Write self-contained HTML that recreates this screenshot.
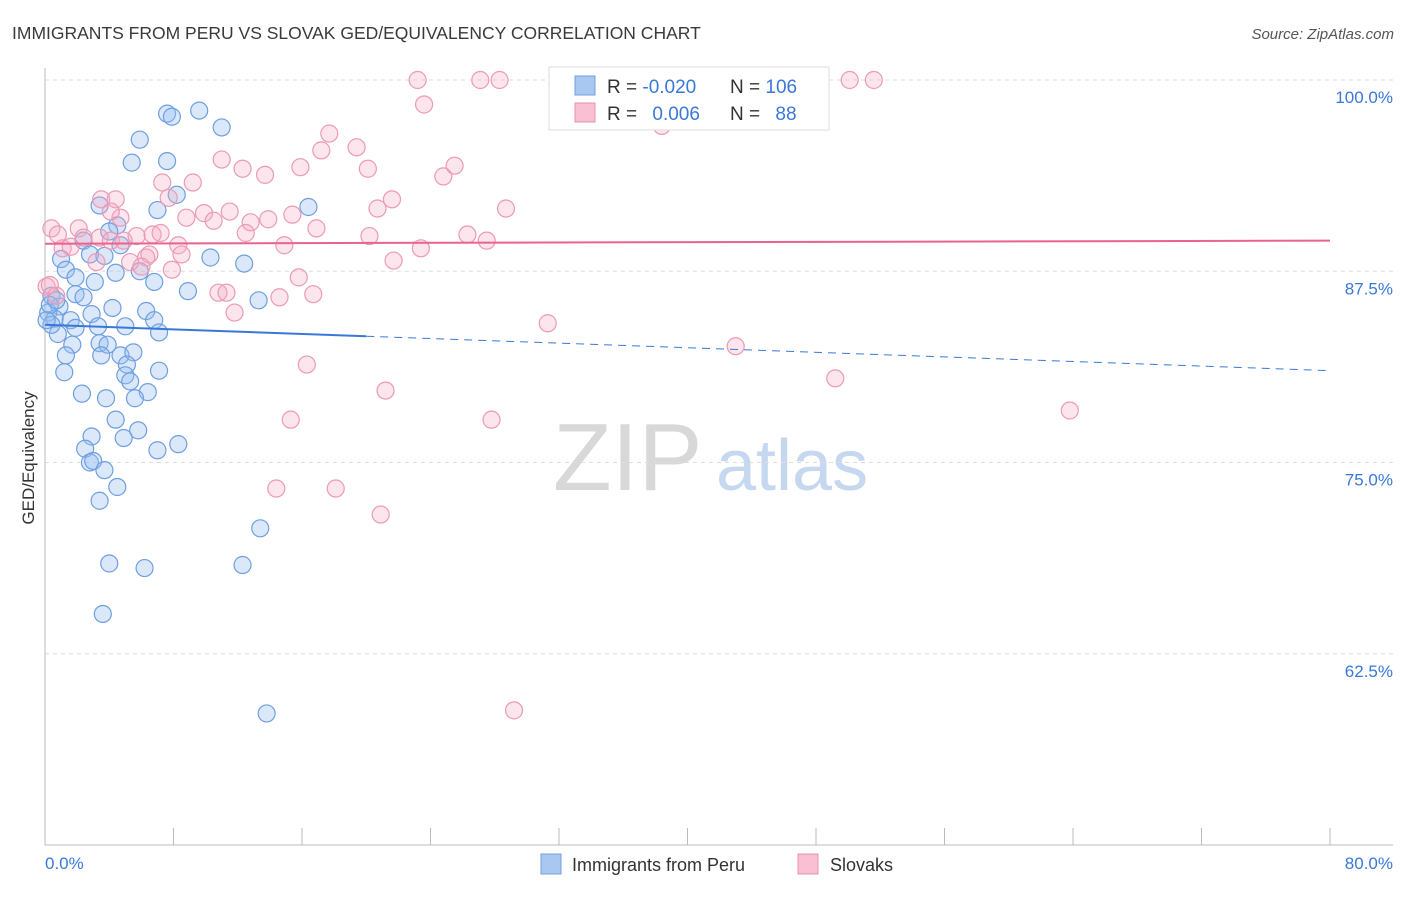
<!DOCTYPE html>
<html><head><meta charset="utf-8"><style>
body{margin:0;background:#fff;font-family:"Liberation Sans",sans-serif;}
svg text{font-family:"Liberation Sans",sans-serif;}
</style></head><body>
<svg width="1406" height="892" xmlns="http://www.w3.org/2000/svg">
<text x="12" y="39" font-size="17.5" fill="#3a3a3a">IMMIGRANTS FROM PERU VS SLOVAK GED/EQUIVALENCY CORRELATION CHART</text>
<text x="1394" y="39" font-size="15" fill="#555" text-anchor="end" font-style="italic">Source: ZipAtlas.com</text>
<g>
<text x="553" y="490" font-size="96" fill="#d8d8d8" font-family="Liberation Serif">ZIP</text>
<text x="716" y="490" font-size="72" fill="#c5d8f0">atlas</text>
</g>
<g id="grid"></g>
<g id="axes"></g>
<g id="pts"></g>
<g id="trend"></g>
<text transform="translate(34,458) rotate(-90)" font-size="17" fill="#333" text-anchor="middle">GED/Equivalency</text>
<g>
<rect x="549" y="67" width="280" height="63" fill="#fff" stroke="#ddd"/>
<rect x="575" y="76" width="20" height="19" fill="#a8c8f0" stroke="#6f9fe0"/>
<rect x="575" y="103" width="20" height="19" fill="#f8c0d2" stroke="#e890ac"/>
<text x="607" y="93" font-size="19" fill="#333">R = <tspan fill="#3a78d8">-0.020</tspan></text>
<text x="730" y="93" font-size="19" fill="#333">N = <tspan fill="#3a78d8">106</tspan></text>
<text x="607" y="120" font-size="19" fill="#333">R = <tspan fill="#3a78d8" dx="10">0.006</tspan></text>
<text x="730" y="120" font-size="19" fill="#333">N = <tspan fill="#3a78d8" dx="10">88</tspan></text>
</g>
<g>
<rect x="541" y="854" width="20" height="20" fill="#a8c8f0" stroke="#6f9fe0"/>
<text x="572" y="871" font-size="18" fill="#333">Immigrants from Peru</text>
<rect x="798" y="854" width="20" height="20" fill="#f8c0d2" stroke="#e890ac"/>
<text x="830" y="871" font-size="18" fill="#333">Slovaks</text>
</g>
</svg>
<script>
const yTicks=[100,87.5,75,62.5];
const yTickLabels=["100.0%","87.5%","75.0%","62.5%"];
const xTickVals=[0,8,16,24,32,40,48,56,64,72,80];
const xEndLabels=["0.0%","80.0%"];
const peruX=[7.6,7.9,9.6,11.0,5.9,5.4,7.6,8.2,7.0,3.4,16.4,4.5,4.0,2.4,4.7,2.8,3.7,10.3,12.4,1.0,1.3,1.9,4.4,5.9,3.1,6.8,8.9,13.3,0.4,1.9,2.4,4.2,6.3,0.9,0.2,0.6,1.6,2.9,6.8,3.3,5.0,7.1,0.8,1.9,1.7,3.4,3.9,1.3,3.5,4.7,5.5,5.1,1.2,7.1,5.0,5.3,2.3,6.4,3.8,5.6,4.4,5.8,4.9,2.9,8.3,7.0,2.5,2.8,3.0,3.7,4.5,3.4,13.4,4.0,6.2,12.3,3.6,13.8,0.4,0.3,0.7,0.1];
const peruY=[97.8,97.6,98.0,96.9,96.1,94.6,94.7,92.5,91.5,91.8,91.7,90.5,90.1,89.5,89.2,88.6,88.5,88.4,88.0,88.3,87.6,87.1,87.4,87.5,86.8,86.8,86.2,85.6,85.9,86.0,85.8,85.1,84.9,85.2,84.8,84.4,84.3,84.7,84.3,83.9,83.9,83.5,83.4,83.8,82.7,82.8,82.7,82.0,82.0,82.0,82.2,81.4,80.9,81.0,80.7,80.3,79.5,79.6,79.2,79.2,77.8,77.1,76.6,76.7,76.2,75.8,75.9,75.0,75.1,74.5,73.4,72.5,70.7,68.4,68.1,68.3,65.1,58.6,84.0,85.3,85.6,84.3];
const slovX=[23.2,27.1,28.3,36.1,38.0,50.1,51.6,23.6,38.4,17.7,17.2,19.4,11.0,12.3,13.7,15.9,20.1,24.8,25.5,7.3,9.2,7.7,3.5,4.4,4.7,4.1,8.8,9.9,10.5,11.5,12.8,13.9,15.4,16.9,20.7,21.6,28.7,0.4,0.8,2.1,2.4,3.4,6.7,7.2,12.5,20.2,26.3,27.5,4.1,4.9,5.7,8.3,8.5,14.9,1.1,1.6,3.2,5.3,6.3,6.5,6.0,7.9,21.7,23.4,15.8,10.8,11.3,14.6,16.7,11.8,31.3,43.0,16.3,49.2,21.2,63.8,15.3,27.8,14.4,18.1,20.9,29.2,0.1,0.7,0.3];
const slovY=[100,100,100,100,100,100,100,98.4,97.0,96.5,95.4,95.6,94.8,94.2,93.8,94.3,94.2,93.7,94.4,93.3,93.3,92.3,92.2,92.2,91.0,91.4,91.0,91.3,90.8,91.4,90.7,90.9,91.2,90.3,91.6,92.2,91.6,90.3,89.9,90.3,89.7,89.7,89.9,90.0,90.0,89.8,89.9,89.5,89.5,89.5,89.8,89.2,88.6,89.2,89.0,89.1,88.1,88.1,88.4,88.6,87.8,87.6,88.2,89.0,87.1,86.1,86.1,85.8,86.0,84.8,84.1,82.6,81.4,80.5,79.7,78.4,77.8,77.8,73.3,73.3,71.6,58.8,86.5,85.9,86.6];
const peruTrend=[84.0,81.0];
const slovTrend=[89.3,89.5];
const peruSolidEnd=20;
const X0=45,X1=1330,Y0=80,Y1=845,YMIN=50,YMAX=100,XMAX=80;
const sx=v=>X0+v/XMAX*(X1-X0);
const sy=v=>Y0+(YMAX-v)/(YMAX-YMIN)*(Y1-Y0);
const NS="http://www.w3.org/2000/svg";
function mk(parent,tag,attrs){const e=document.createElementNS(NS,tag);for(const k in attrs)e.setAttribute(k,attrs[k]);document.getElementById(parent).appendChild(e);return e;}
yTicks.forEach((t,i)=>{
 const l=mk('grid','line',{x1:X0,x2:1393,y1:sy(t),y2:sy(t),stroke:'#ddd','stroke-dasharray':'4,4'});
 
 
 const tx=mk('grid','text',{x:1393,y:sy(t)+23,'font-size':17,fill:'#3a78d8','text-anchor':'end'});
 tx.textContent=yTickLabels[i];
 
 
});
let a=mk('axes','line',{x1:X0,x2:X0,y1:68,y2:Y1,stroke:'#bbb'});


a=mk('axes','line',{x1:X0,x2:1393,y1:Y1,y2:Y1,stroke:'#bbb'});


xTickVals.forEach(v=>{
 const t=mk('axes','line',{x1:sx(v),x2:sx(v),y1:828,y2:Y1,stroke:'#bbb'});
 
 
});
let xl=mk('axes','text',{x:45,y:869,'font-size':17,fill:'#3a78d8'});xl.textContent=xEndLabels[0];


xl=mk('axes','text',{x:1393,y:869,'font-size':17,fill:'#3a78d8','text-anchor':'end'});xl.textContent=xEndLabels[1];


peruX.forEach((v,i)=>{
 const c=mk('pts','circle',{cx:sx(v),cy:sy(peruY[i]),r:8.5,fill:'rgba(150,190,240,0.35)',stroke:'#6f9fe0','stroke-width':1.2});
 
 
});
slovX.forEach((v,i)=>{
 const c=mk('pts','circle',{cx:sx(v),cy:sy(slovY[i]),r:8.5,fill:'rgba(245,170,195,0.3)',stroke:'#ec9ab5','stroke-width':1.2});
 
 
});
const py=v=>peruTrend[0]+(peruTrend[1]-peruTrend[0])*v/XMAX;
let tl=mk('trend','line',{x1:sx(0),y1:sy(py(0)),x2:sx(peruSolidEnd),y2:sy(py(peruSolidEnd)),stroke:'#3a78d8','stroke-width':2});


tl=mk('trend','line',{x1:sx(peruSolidEnd),y1:sy(py(peruSolidEnd)),x2:sx(XMAX),y2:sy(py(XMAX)),stroke:'#3a78d8','stroke-width':1,'stroke-dasharray':'8,6'});


tl=mk('trend','line',{x1:sx(0),y1:sy(slovTrend[0]),x2:sx(XMAX),y2:sy(slovTrend[1]),stroke:'#e8648f','stroke-width':2});


</script>
</body></html>
